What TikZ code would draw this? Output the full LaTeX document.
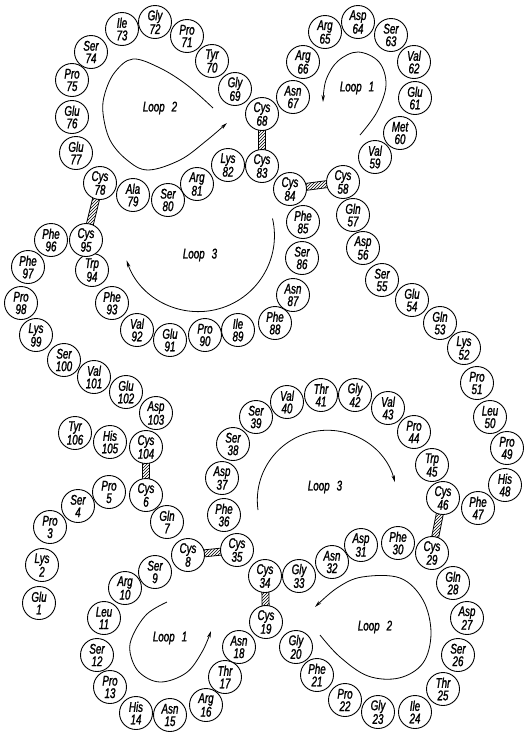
\documentclass[tikz,border=0pt]{standalone}
\usepackage{fontspec}
\newfontfamily\labfont{Liberation Sans}[FakeStretch=0.7,FakeBold=1.4]
\usetikzlibrary{calc,patterns,backgrounds,arrows.meta}
\begin{document}
\begin{tikzpicture}[x=1pt,y=-1pt,
  res/.style={circle,draw,line width=0.9pt,fill=white,minimum size=33pt,inner sep=0pt,
    align=center,font=\labfont\itshape\fontsize{14}{12.5}\selectfont},
  bond/.style={draw,line width=0.8pt,pattern=north east lines},
  loopline/.style={draw,line width=0.8pt,-{Stealth[length=7pt,width=3.5pt]}},
  looplabel/.style={font=\labfont\itshape\fontsize{14}{14}\selectfont}]
\useasboundingbox (0,0) rectangle (527,734);
\foreach \n/\nm/\x/\y in {
 1/Glu/39/603, 2/Lys/42/565, 3/Pro/50/527, 4/Ser/78/506, 5/Pro/109/492,
 6/Cys/146/495, 7/Gln/167/522, 8/Cys/188/555, 9/Ser/155/572, 10/Arg/125/588,
 11/Leu/104/618, 12/Ser/97/655, 13/Pro/110/687, 14/His/136/713, 15/Asn/170/715,
 16/Arg/206/705, 17/Thr/225/677, 18/Asn/239/647, 19/Cys/266/622, 20/Gly/296/647,
 21/Phe/317/675, 22/Pro/345/700, 23/Gly/378/712, 24/Ile/415/712, 25/Thr/443/689,
 26/Ser/458/655, 27/Asp/467/618, 28/Gln/453/583, 29/Cys/432/553, 30/Phe/398/543,
 31/Asp/361/545, 32/Asn/332/562, 33/Gly/299/576, 34/Cys/265/576, 35/Cys/237/550,
 36/Phe/224/515, 37/Asp/222/478, 38/Ser/233/444, 39/Ser/256/417, 40/Val/287/402,
 41/Thr/321/395, 42/Gly/355/395, 43/Val/388/408, 44/Pro/414/432, 45/Trp/432/465,
 46/Cys/443/498, 47/Phe/478/508, 48/His/505/485, 49/Pro/507/448, 50/Leu/490/417,
 51/Pro/477/383, 52/Lys/464/348, 53/Gln/440/323, 54/Glu/412/300, 55/Ser/382/280,
 56/Asp/363/248, 57/Gln/353/215, 58/Cys/343/182, 59/Val/375/157, 60/Met/400/133,
 61/Glu/415/98, 62/Val/414/62, 63/Ser/391/35, 64/Asp/358/22, 65/Arg/325/32,
 66/Arg/303/62, 67/Asn/293/97, 68/Cys/262/114, 69/Gly/235/89, 70/Tyr/212/61,
 71/Pro/187/36, 72/Gly/155/22, 73/Ile/122/29, 74/Ser/91/52, 75/Pro/72/80,
 76/Glu/72/117, 77/Glu/76/153, 78/Cys/100/183, 79/Ala/133/195, 80/Ser/168/200,
 81/Arg/197/184, 82/Lys/228/165, 83/Cys/262/166, 84/Cys/290/189, 85/Phe/303/222,
 86/Ser/302/258, 87/Asn/293/295, 88/Phe/275/323, 89/Ile/238/330, 90/Pro/205/335,
 91/Glu/170/340, 92/Val/137/330, 93/Phe/112/303, 94/Trp/92/270, 95/Cys/86/240,
 96/Phe/51/240, 97/Phe/28/267, 98/Pro/21/303, 99/Lys/36/335, 100/Ser/64/360,
 101/Val/94/377, 102/Glu/126/392, 103/Asp/156/413, 104/Cys/146/447, 105/His/110/442,
 106/Tyr/75/433}
  \node[res] (r\n) at (\x,\y) {\nm\\\n};
\begin{pgfonlayer}{background}
\foreach \a/\b in {68/83, 84/58, 78/95, 104/6, 46/29, 8/35, 34/19}
  \path[bond] ($(r\a)!3.5pt!90:(r\b)$) -- ($(r\b)!3.5pt!-90:(r\a)$)
     -- ($(r\b)!3.5pt!90:(r\a)$) -- ($(r\a)!3.5pt!-90:(r\b)$) -- cycle;
\end{pgfonlayer}
% loop labels
\node[looplabel] (l2a) at (160,108) {Loop\hspace{0.5em}2};
\node[looplabel] (l1a) at (357,88) {Loop\hspace{0.5em}1};
\node[looplabel] (l3a) at (200,255) {Loop\hspace{0.5em}3};
\node[looplabel] (l3b) at (325,487) {Loop\hspace{0.5em}3};
\node[looplabel] (l1b) at (170,638) {Loop\hspace{0.5em}1};
\node[looplabel] (l2b) at (375,627) {Loop\hspace{0.5em}2};
% loop arrows
\path[loopline] plot[smooth,tension=0.6] coordinates {(213,108) (187,85) (160,68) (133,59) (115,72) (105,93) (103,113) (110,140) (127,160) (148,170) (180,160) (206,141) (227,123)};
\path[loopline] plot[smooth,tension=0.6] coordinates {(360,135) (377,112) (386,85) (379,62) (358,52) (338,61) (326,80) (323,102)};
\path[loopline] (272.5,218.5) arc[start angle=-13, end angle=161, radius=76];
\path[loopline] (258,510) arc[start angle=172, end angle=345, radius=70];
\path[loopline] plot[smooth,tension=0.6] coordinates {(167,602) (147,614) (133,635) (130,652) (139,672) (160,682) (186,673) (202,652) (211,631)};
\path[loopline] plot[smooth,tension=0.6] coordinates {(320,635) (340,657) (368,676) (399,678) (423,663) (431,633) (423,600) (400,578) (362,577) (337,588) (315,607)};
\end{tikzpicture}
\end{document}
